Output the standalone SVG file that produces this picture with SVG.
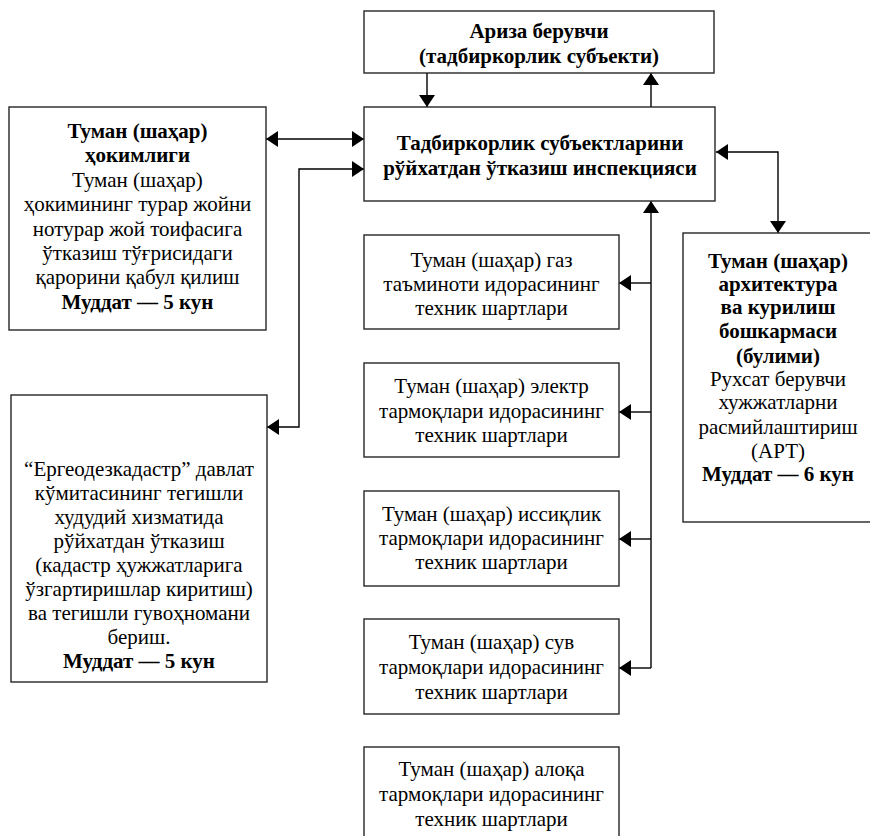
<svg xmlns="http://www.w3.org/2000/svg" width="870" height="836" viewBox="0 0 870 836">
<style>
.box{fill:#fff;stroke:#262626;stroke-width:1.4}
.b{font-weight:bold}
.c{fill:none;stroke:#000;stroke-width:1.4}
</style>
<defs>
<marker id="ah" viewBox="0 0 12 16" refX="12" refY="8" markerWidth="12" markerHeight="16" markerUnits="userSpaceOnUse" orient="auto-start-reverse">
<path d="M0,0 L12,8 L0,16 z" fill="#000"/>
</marker>
</defs>
<rect width="870" height="836" fill="#fff"/>
<g id="connectors">
<line class="c" x1="427" y1="73" x2="427" y2="107" marker-end="url(#ah)"/>
<line class="c" x1="651" y1="107" x2="651" y2="73" marker-end="url(#ah)"/>
<line class="c" x1="266" y1="139" x2="364" y2="139" marker-start="url(#ah)" marker-end="url(#ah)"/>
<polyline class="c" points="364,169 299,169 299,427 267,427" marker-start="url(#ah)" marker-end="url(#ah)"/>
<polyline class="c" points="716,152 778,152 778,233" marker-start="url(#ah)" marker-end="url(#ah)"/>
<line class="c" x1="651" y1="668" x2="651" y2="201" marker-end="url(#ah)"/>
<line class="c" x1="651" y1="283" x2="619" y2="283" marker-end="url(#ah)"/>
<line class="c" x1="651" y1="412" x2="619" y2="412" marker-end="url(#ah)"/>
<line class="c" x1="651" y1="539" x2="619" y2="539" marker-end="url(#ah)"/>
<line class="c" x1="651" y1="668" x2="619" y2="668" marker-end="url(#ah)"/>
</g>
<g font-family="Liberation Serif, Times New Roman, serif" font-size="21" fill="#000" text-anchor="middle">
<g id="applicant">
<rect class="box" x="364" y="11" width="350" height="62"/>
<text class="b" x="539" y="38">Ариза берувчи</text>
<text class="b" x="539" y="63">(тадбиркорлик субъекти)</text>
</g>
<g id="inspection">
<rect class="box" x="364" y="107" width="351" height="94"/>
<text class="b" x="540" y="150">Тадбиркорлик субъектларини</text>
<text class="b" x="540" y="175">рўйхатдан ўтказиш инспекцияси</text>
</g>
<g id="hokimiyat">
<rect class="box" x="9" y="107" width="257" height="223"/>
<text class="b" x="137.5" y="138">Туман (шаҳар)</text>
<text class="b" x="137.5" y="162">ҳокимлиги</text>
<text x="137.5" y="187">Туман (шаҳар)</text>
<text x="137.5" y="211">ҳокимининг турар жойни</text>
<text x="137.5" y="236">нотурар жой тоифасига</text>
<text x="137.5" y="260">ўтказиш тўғрисидаги</text>
<text x="137.5" y="284">қарорини қабул қилиш</text>
<text class="b" x="137.5" y="309">Муддат — 5 кун</text>
</g>
<g id="geodez">
<rect class="box" x="11" y="395" width="256" height="287"/>
<text x="139" y="476">“Ергеодезкадастр” давлат</text>
<text x="139" y="500">кўмитасининг тегишли</text>
<text x="139" y="524">худудий хизматида</text>
<text x="139" y="548">рўйхатдан ўтказиш</text>
<text x="139" y="572">(кадастр ҳужжатларига</text>
<text x="139" y="596">ўзгартиришлар киритиш)</text>
<text x="139" y="620">ва тегишли гувоҳномани</text>
<text x="139" y="644">бериш.</text>
<text class="b" x="139" y="668">Муддат — 5 кун</text>
</g>
<g id="gas">
<rect class="box" x="364" y="235" width="255" height="94"/>
<text x="491.5" y="267">Туман (шаҳар) газ</text>
<text x="491.5" y="291">таъминоти идорасининг</text>
<text x="491.5" y="315">техник шартлари</text>
</g>
<g id="electric">
<rect class="box" x="364" y="363" width="255" height="94"/>
<text x="491.5" y="393">Туман (шаҳар) электр</text>
<text x="491.5" y="418">тармоқлари идорасининг</text>
<text x="491.5" y="442">техник шартлари</text>
</g>
<g id="heat">
<rect class="box" x="364" y="491" width="255" height="95"/>
<text x="491.5" y="521">Туман (шаҳар) иссиқлик</text>
<text x="491.5" y="545">тармоқлари идорасининг</text>
<text x="491.5" y="569">техник шартлари</text>
</g>
<g id="water">
<rect class="box" x="364" y="619" width="255" height="95"/>
<text x="491.5" y="649">Туман (шаҳар) сув</text>
<text x="491.5" y="674">тармоқлари идорасининг</text>
<text x="491.5" y="699">техник шартлари</text>
</g>
<g id="telecom">
<rect class="box" x="364" y="747" width="255" height="100"/>
<text x="491.5" y="776">Туман (шаҳар) алоқа</text>
<text x="491.5" y="801">тармоқлари идорасининг</text>
<text x="491.5" y="826">техник шартлари</text>
</g>
<g id="architecture">
<rect class="box" x="683" y="233" width="200" height="289"/>
<text class="b" x="778" y="268">Туман (шаҳар)</text>
<text class="b" x="778" y="291">архитектура</text>
<text class="b" x="778" y="314">ва курилиш</text>
<text class="b" x="778" y="338">бошкармаси</text>
<text class="b" x="778" y="363">(булими)</text>
<text x="778" y="386">Рухсат берувчи</text>
<text x="778" y="409">хужжатларни</text>
<text x="778" y="434">расмийлаштириш</text>
<text x="778" y="458">(АРТ)</text>
<text class="b" x="778" y="481">Муддат — 6 кун</text>
</g>
</g>
</svg>
